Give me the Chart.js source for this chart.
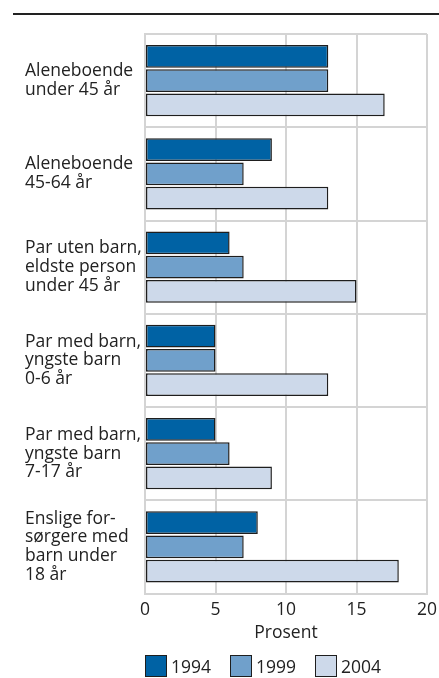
<!DOCTYPE html>
<html>
<head>
<meta charset="utf-8">
<script src="https://cdn.jsdelivr.net/npm/chart.js@4/dist/chart.umd.min.js"></script>
<style>
  html, body { margin: 0; padding: 0; background: #fff; }
  #wrap { position: relative; width: 439px; height: 678px; overflow: hidden; font-family: 'Open Sans', sans-serif; }
  #rule { position: absolute; left: 13px; right: 0; top: 13px; height: 0; border-top: 2px solid #222; }
  #box { position: absolute; left: 0; top: 0; width: 439px; height: 678px; }
  #legend { position: absolute; left: 145px; top: 655px; display: flex; }
  .item { width: 85px; display: flex; align-items: center; font-size: 17.5px; color: #222; line-height: 21px; }
  .sw { width: 20px; height: 20px; border: 1px solid #1e1e1e; margin-right: 4px; box-sizing: content-box; }
</style>
</head>
<body>
<div id="wrap">
  <div id="rule"></div>
  <div id="box"><canvas id="chart"></canvas></div>
  <div id="legend"></div>
</div>
<script>
// ---------- Data ----------
const categories = [
  ['Aleneboende', 'under 45 år'],
  ['Aleneboende', '45-64 år'],
  ['Par uten barn,', 'eldste person', 'under 45 år'],
  ['Par med barn,', 'yngste barn', '0-6 år'],
  ['Par med barn,', 'yngste barn', '7-17 år'],
  ['Enslige for-', 'sørgere med', 'barn under', '18 år'],
];
const years = ['1994', '1999', '2004'];
const values1994 = [13, 9, 6, 5, 5, 8];
const values1999 = [13, 7, 7, 5, 6, 7];
const values2004 = [17, 13, 15, 13, 9, 18];
const xTicks = [0, 5, 10, 15, 20];

const COLORS = ['#0062a4', '#70a0cb', '#cdd9ea'];
const FONT = "'Open Sans', sans-serif";
const GRID = '#d4d4d4';

const series = [values1994, values1999, values2004];

const chart = new Chart(document.getElementById('chart'), {
  type: 'bar',
  data: {
    labels: categories,
    datasets: series.map((vals, i) => ({
      label: years[i],
      data: vals,
      backgroundColor: COLORS[i],
      borderColor: '#1e1e1e',
      borderWidth: 1.5,
      borderSkipped: false,
      categoryPercentage: 0.78,
      barPercentage: 0.93,
    }))
  },
  options: {
    indexAxis: 'y',
    responsive: true,
    maintainAspectRatio: false,
    animation: false,
    layout: { padding: { left: 25, right: 12, top: 34, bottom: 34 } },
    plugins: {
      tooltip: { enabled: false },
      legend: { display: false }
    },
    scales: {
      x: {
        min: 0,
        max: 20,
        afterBuildTicks: s => { s.ticks = xTicks.map(v => ({ value: v })); },
        afterFit: s => { s.paddingLeft = 0; s.paddingRight = 0; },
        grid: { color: GRID, lineWidth: 2, drawTicks: false },
        border: { display: true, color: GRID, width: 2 },
        ticks: { color: '#222', font: { family: FONT, size: 17.5, lineHeight: 1.0 }, padding: 8 },
        title: { display: true, text: 'Prosent', color: '#222', font: { family: FONT, size: 17.5, lineHeight: 1.2 }, padding: { top: -4, bottom: 0 } }
      },
      y: {
        afterFit: s => { s.width = 120; s.paddingTop = 0; s.paddingBottom = 0; },
        grid: { color: GRID, lineWidth: 2, drawTicks: false },
        border: { display: true, color: GRID, width: 2 },
        ticks: { color: '#222', font: { family: FONT, size: 17.5, lineHeight: 1.07 }, crossAlign: 'far', padding: 0 }
      }
    }
  }
});

// ---------- HTML legend ----------
const legendEl = document.getElementById('legend');
chart.data.datasets.forEach(ds => {
  const item = document.createElement('div');
  item.className = 'item';
  const sw = document.createElement('span');
  sw.className = 'sw';
  sw.style.background = ds.backgroundColor;
  item.appendChild(sw);
  item.appendChild(document.createTextNode(ds.label));
  legendEl.appendChild(item);
});
</script>
</body>
</html>
